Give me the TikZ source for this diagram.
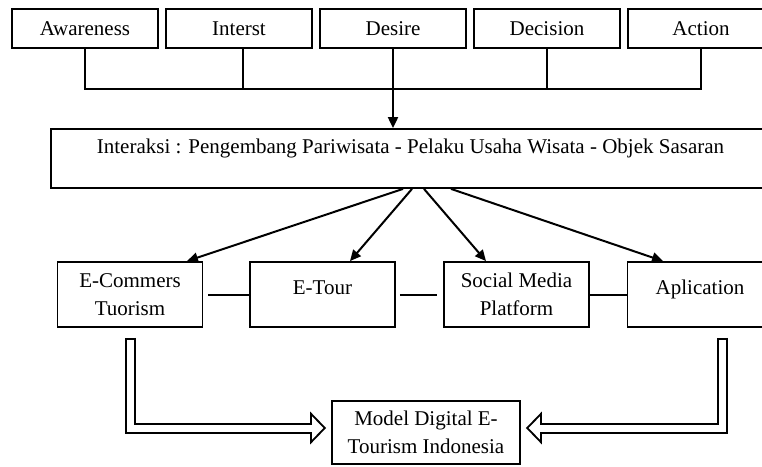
\documentclass[tikz,border=0pt]{standalone}
\usepackage{fontspec}
\setmainfont{Liberation Serif}
\usetikzlibrary{arrows.meta,positioning}

\begin{document}
\begin{tikzpicture}[x=1pt,y=-1pt,node distance=154pt,on grid,
    font=\fontsize{21}{28}\selectfont,
    >={Triangle[length=11pt,width=10pt]},
    link/.style={line width=2pt},
    hollow/.style={draw=white,line width=7pt,shorten <=12pt,shorten >=7.8pt,
      -{Triangle[length=11.2pt,width=22.4pt]},
      preaction={draw=black,line width=11pt,shorten <=10pt,shorten >=5pt,
        -{Triangle[length=16pt,width=32pt]}}}]
  \tikzstyle{stage}=[rectangle,draw,line width=1.8pt,minimum width=146pt,minimum height=39pt,inner sep=0pt]
  \tikzstyle{bigbox}=[rectangle,draw,line width=1.8pt,minimum width=719pt,minimum height=59pt,inner sep=0pt,text height=14pt,text depth=25pt]
  \tikzstyle{medium}=[rectangle,draw,line width=1.8pt,minimum width=145pt,minimum height=65pt,inner sep=0pt,align=center]

  \useasboundingbox (0,0) rectangle (762,466);
  \clip (0,0) rectangle (762,466);

  % AIDDA stages
  \node[stage]          (aware)              at (85,28.5) {Awareness};
  \node[stage]          (interest) [right=of aware]    {Interst};
  \node[stage]          (desire)   [right=of interest] {Desire};
  \node[stage]          (decision) [right=of desire]   {Decision};
  \node[stage]          (action)   [right=of decision] {Action};

  \node[bigbox]         (inter)              at (410.5,158.5) {Interaksi : Pengembang Pariwisata - Pelaku Usaha Wisata - Objek Sasaran};

  \node[medium]                 (ecom)   at (130,294.5)   {E-Commers\\Tuorism};
  \node[medium,text depth=14pt] (etour)  at (322.5,294.5) {E-Tour};
  \node[medium]                 (social) at (516.5,294.5) {Social Media\\Platform};
  \node[medium,text depth=14pt] (app)    at (700,294.5)   {Aplication};

  \node[medium,minimum width=188pt,minimum height=63pt] (model) at (426,432.5) {Model Digital E-\\Tourism Indonesia};

  % tie the stages together
  \coordinate (tie) at (393,89);
  \draw[link] (aware.south) |- (tie) -| (action.south);
  \draw[link] ([xshift=4pt]interest.south) -- ([xshift=4pt]interest.south |- tie);
  \draw[link] (decision.south) -- (decision.south |- tie);
  \draw[link,->] (desire.south) -- (desire.south |- inter.north);

  % interaction to channels
  \draw[link,->] ([xshift=-7.5pt]inter.south) -- ([xshift=57pt]ecom.north);
  \draw[link,->] ([xshift=1.5pt]inter.south)  -- ([xshift=27.5pt]etour.north);
  \draw[link,->] ([xshift=13.5pt]inter.south) -- ([xshift=-30.5pt]social.north);
  \draw[link,->] ([xshift=40.5pt]inter.south) -- ([xshift=-37pt]app.north);

  \draw[link,shorten <=5pt] (ecom.east) -- (etour.west);
  \draw[link,shorten <=4pt,shorten >=6pt] (etour.east) -- (social.west);
  \draw[link] (social.east) -- (app.west);

  % channels into the model
  \draw[hollow] (ecom.south) |- ([yshift=4.5pt]model.west);
  \draw[hollow] ([xshift=22pt]app.south) |- ([yshift=4.5pt]model.east);
\end{tikzpicture}
\end{document}
